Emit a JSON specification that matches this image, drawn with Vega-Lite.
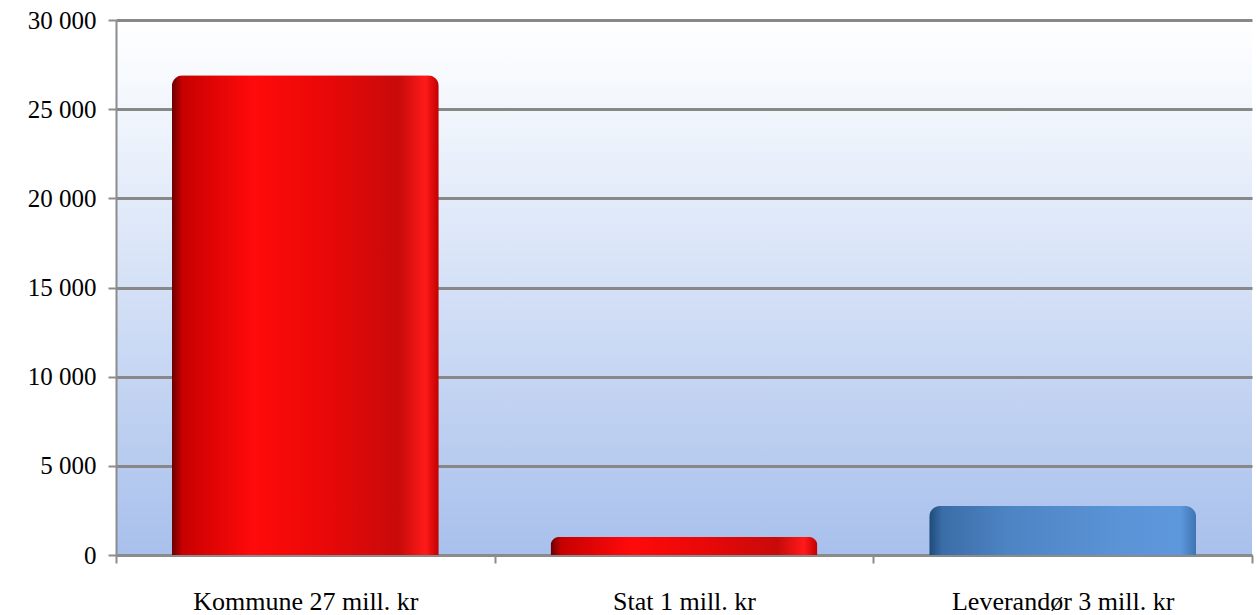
{
  "$schema": "https://vega.github.io/schema/vega-lite/v6.json",
  "width": 1136,
  "height": 535,
  "autosize": "none",
  "padding": {"left": 116, "top": 20, "right": 4, "bottom": 60},
  "background": "white",
  "config": {
    "view": {
      "stroke": null,
      "fill": {
        "gradient": "linear", "x1": 0, "y1": 0, "x2": 0, "y2": 1,
        "stops": [
          {"offset": 0, "color": "#ffffff"},
          {"offset": 0.15, "color": "#f3f7fd"},
          {"offset": 1, "color": "#a8c0ec"}
        ]
      }
    },
    "axis": {
      "labelFont": "Liberation Serif",
      "labelColor": "#000000",
      "labelLimit": 0,
      "domainColor": "#8c8c8c",
      "domainWidth": 2,
      "tickColor": "#8c8c8c",
      "tickWidth": 2,
      "tickSize": 8,
      "gridColor": "#888888",
      "gridWidth": 3,
      "gridOpacity": 1,
      "title": null
    }
  },
  "data": {
    "values": [
      {"kategori": "Kommune 27 mill. kr", "verdi": 26900},
      {"kategori": "Stat 1 mill. kr", "verdi": 1020},
      {"kategori": "Leverandør 3 mill. kr", "verdi": 2750}
    ]
  },
  "mark": {
    "type": "bar",
    "width": {"band": 0.705},
    "cornerRadiusEnd": 11
  },
  "encoding": {
    "x": {
      "field": "kategori",
      "type": "nominal",
      "sort": null,
      "scale": {"paddingInner": 0, "paddingOuter": 0},
      "axis": {
        "labelAngle": 0,
        "labelFontSize": 26,
        "labelPadding": 25,
        "tickBand": "extent",
        "grid": false
      }
    },
    "y": {
      "field": "verdi",
      "type": "quantitative",
      "scale": {"domain": [0, 30000], "nice": false},
      "axis": {
        "values": [0, 5000, 10000, 15000, 20000, 25000, 30000],
        "labelExpr": "replace(format(datum.value, ','), ',', ' ')",
        "labelFontSize": 25,
        "labelPadding": 12,
        "grid": true
      }
    },
    "fill": {
      "condition": {
        "test": "datum.kategori === 'Leverandør 3 mill. kr'",
        "value": {
          "gradient": "linear", "x1": 0, "y1": 0, "x2": 1, "y2": 0,
          "stops": [
            {"offset": 0, "color": "#1f4a7a"},
            {"offset": 0.05, "color": "#3b6ea8"},
            {"offset": 0.3, "color": "#4d84c4"},
            {"offset": 0.7, "color": "#5a93d6"},
            {"offset": 0.94, "color": "#5e98dc"},
            {"offset": 1, "color": "#3e74b2"}
          ]
        }
      },
      "value": {
        "gradient": "linear", "x1": 0, "y1": 0, "x2": 1, "y2": 0,
        "stops": [
          {"offset": 0, "color": "#6a0000"},
          {"offset": 0.04, "color": "#c80000"},
          {"offset": 0.3, "color": "#ff0a0a"},
          {"offset": 0.55, "color": "#ec0808"},
          {"offset": 0.85, "color": "#c80a0a"},
          {"offset": 0.95, "color": "#ff1a1a"},
          {"offset": 1, "color": "#c00000"}
        ]
      }
    }
  }
}
